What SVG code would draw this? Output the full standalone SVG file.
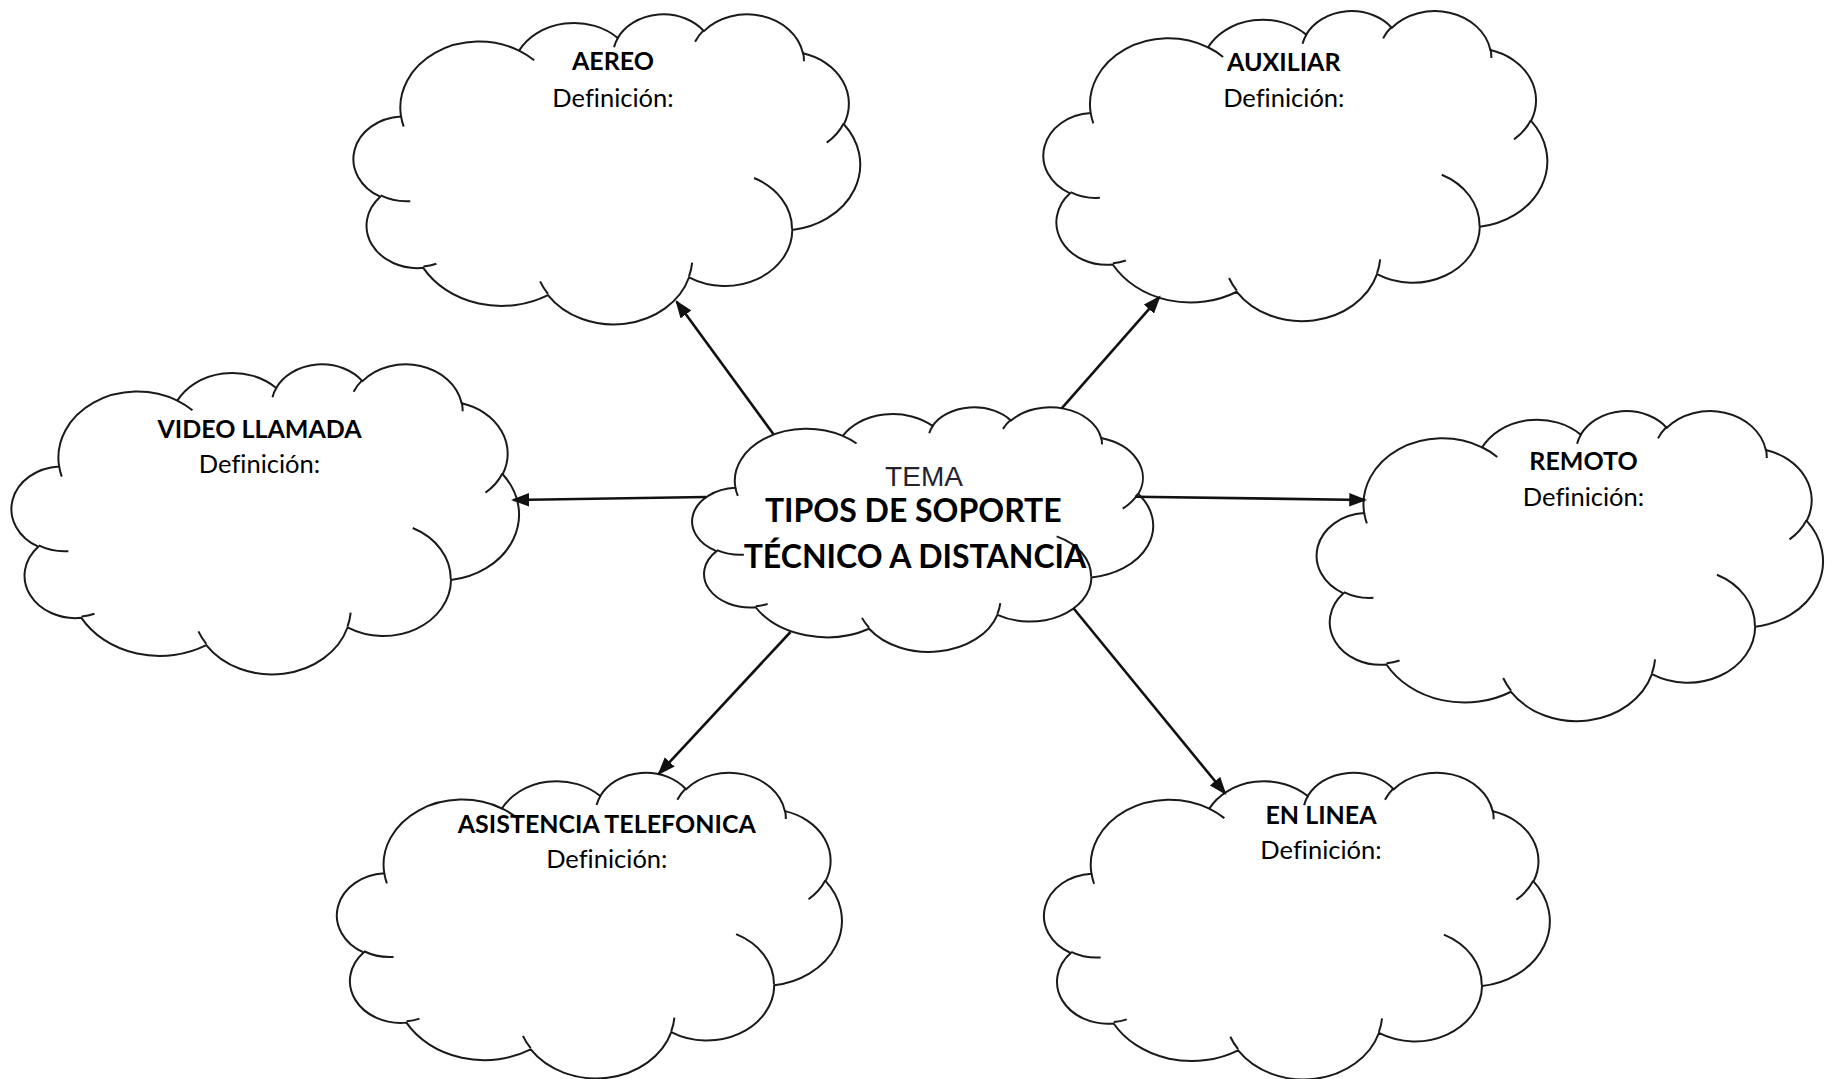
<svg xmlns="http://www.w3.org/2000/svg" xmlns:xlink="http://www.w3.org/1999/xlink" width="1834" height="1079" viewBox="0 0 1834 1079">
  <style>
    .cloud { fill: #ffffff; stroke: #1a1a1a; stroke-width: 2; vector-effect: non-scaling-stroke; }
    .fold { fill: none; stroke: #1a1a1a; stroke-width: 2; vector-effect: non-scaling-stroke; }
    text { font-variant-ligatures: none; }
    .name { font-family: Lato, "Open Sans", sans-serif; font-weight: 700; font-size: 25px; text-anchor: middle; fill: #000000; }
    .def { font-family: Lato, "Open Sans", sans-serif; font-weight: 400; font-size: 25.5px; text-anchor: middle; fill: #000000; }
    .tema { font-family: "Liberation Sans", Arial, sans-serif; font-size: 28px; text-anchor: middle; fill: #23232f; }
    .topic { font-family: Lato, "Open Sans", sans-serif; font-weight: 700; font-size: 32px; text-anchor: middle; fill: #000000; }
    .link { fill: none; stroke: #111111; stroke-width: 2.6; marker-end: url(#arrow); }
  </style>
  <defs>
    <!-- cloud outline in a 432 x 432 unit box -->
    <path id="cloud-outline" class="cloud" d="M39 143.7A67.53 91.9 0 0 1 140.05 52.02A53.33 72.67 0 0 1 224.56 34.32A43.65 59.45 0 0 1 298.33 24.81A48.57 65.95 0 0 1 383.18 55.76A53.33 72.73 0 0 1 418.18 154.6A67.75 92.2 0 0 1 374.04 302.04A57.85 78.67 0 0 1 285.56 368.14A67.52 92.15 0 0 1 164.8 392.65A77.2 105.43 0 0 1 58.04 354.71A43.6 59.18 0 0 1 21.21 255.49A43.45 59.45 0 0 1 39 143.7Z"/>
    <!-- short inner arcs where the puffs overlap -->
    <path id="cloud-folds" class="fold" d="M46.93 261.77A43.45 59.45 0 0 1 21.6 253.8M69.28 348.99A43.6 59.18 0 0 1 58.2 352.8M164.78 390.9A67.52 92.15 0 0 1 158.1 373.5M288.27 347.51A67.52 92.15 0 0 1 285.6 366.6M341.29 229.54A57.85 78.67 0 0 1 373.8 300.9M417.98 153.54A53.33 72.73 0 0 1 403.5 180.3M383.24 54.26A48.57 65.95 0 0 1 384 66.9M290.78 39.52A48.57 65.95 0 0 1 298.2 23.41M221.41 47.2A43.65 59.45 0 0 1 225 33.3M140 51.92A67.53 91.9 0 0 1 153 65.41M41.27 157.89A67.53 91.9 0 0 1 39 143.7"/>
    <marker id="arrow" markerUnits="userSpaceOnUse" markerWidth="18" markerHeight="14" viewBox="0 0 16 12" refX="14" refY="6" orient="auto">
      <path d="M0 0L16 6L0 12Z" fill="#111111"/>
    </marker>
  </defs>

  <rect width="1834" height="1079" fill="#ffffff"/>

  <g id="node-aereo">
    <g transform="translate(355.5 13.3) scale(1.16782 0.71759)">
      <use href="#cloud-outline"/>
      <use href="#cloud-folds"/>
    </g>
    <text class="name" x="613" y="70">AEREO</text>
    <text class="def" x="613" y="106.7">Definición:</text>
  </g>

  <g id="node-auxiliar">
    <g transform="translate(1045.4 10) scale(1.16134 0.71759)">
      <use href="#cloud-outline"/>
      <use href="#cloud-folds"/>
    </g>
    <text class="name" x="1283.8" y="70.7">AUXILIAR</text>
    <text class="def" x="1283.8" y="106.7">Definición:</text>
  </g>

  <g id="node-video-llamada">
    <g transform="translate(13.5 363.3) scale(1.16968 0.71759)">
      <use href="#cloud-outline"/>
      <use href="#cloud-folds"/>
    </g>
    <text class="name" x="259.5" y="438.3">VIDEO LLAMADA</text>
    <text class="def" x="259.5" y="473.3">Definición:</text>
  </g>

  <g id="node-remoto">
    <g transform="translate(1318.7 410) scale(1.1669 0.71759)">
      <use href="#cloud-outline"/>
      <use href="#cloud-folds"/>
    </g>
    <text class="name" x="1583.5" y="470">REMOTO</text>
    <text class="def" x="1583.5" y="506">Definición:</text>
  </g>

  <g id="node-asistencia-telefonica">
    <g transform="translate(338.9 771.7) scale(1.16389 0.70741)">
      <use href="#cloud-outline"/>
      <use href="#cloud-folds"/>
    </g>
    <text class="name" x="606.8" y="833.3">ASISTENCIA TELEFONICA</text>
    <text class="def" x="606.8" y="868.3">Definición:</text>
  </g>

  <g id="node-en-linea">
    <g transform="translate(1046 771.7) scale(1.16574 0.70972)">
      <use href="#cloud-outline"/>
      <use href="#cloud-folds"/>
    </g>
    <text class="name" x="1321" y="824">EN LINEA</text>
    <text class="def" x="1321" y="859.3">Definición:</text>
  </g>

  <g id="node-tema">
    <g transform="translate(694 406.5) scale(1.0625 0.56597)">
      <use href="#cloud-outline"/>
      <use href="#cloud-folds"/>
    </g>
    <text class="tema" x="924" y="486">TEMA</text>
    <text class="topic" x="913.3" y="522">TIPOS DE SOPORTE</text>
    <text class="topic" x="915" y="568.3">TÉCNICO A DISTANCIA</text>
  </g>

  <g id="connectors">
    <line class="link" x1="773.3" y1="434" x2="676.7" y2="301.7"/>
    <line class="link" x1="1061.7" y1="408.3" x2="1159.3" y2="297.3"/>
    <line class="link" x1="706" y1="497" x2="513.3" y2="500"/>
    <line class="link" x1="1135" y1="496.7" x2="1365" y2="500"/>
    <line class="link" x1="790.5" y1="632" x2="659" y2="773.5"/>
    <line class="link" x1="1073.5" y1="608.3" x2="1225" y2="793.3"/>
  </g>
</svg>
